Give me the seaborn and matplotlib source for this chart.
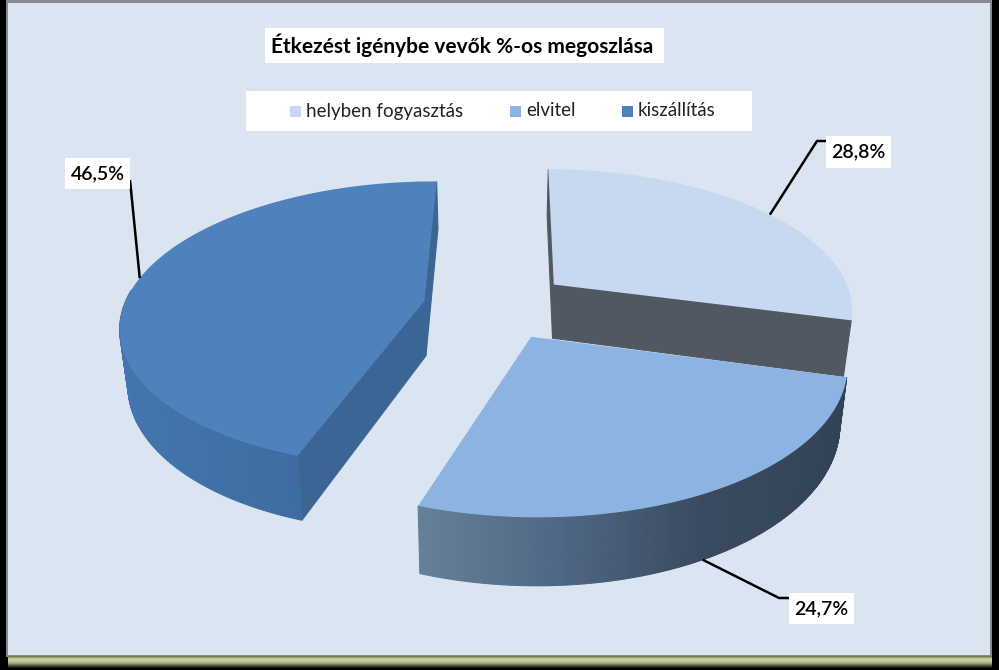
import matplotlib
matplotlib.use("Agg")
import matplotlib.pyplot as plt
from matplotlib.patches import Polygon, Rectangle
import numpy as np
import seaborn as sns

categories = ['helyben fogyasztás', 'elvitel', 'kiszállítás']
shares = [28.8, 24.7, 46.5]

title = 'Étkezést igénybe vevők %-os megoszlása'
top_colors = ['#C6D9F0', '#8DB3E2', '#4F81BD']
rim_colors = [['#525862', '#525862'],
              ['#668099', '#4F6784', '#3A4A60', '#334357'],
              ['#4475AE', '#3F6DA3', '#3A6293']]
cut_colors = ['#525862', '#334357', '#3B6595']

# label boxes / elbows in image pixels
label_boxes = [(826, 136, 65, 32), (789, 593, 65, 31), (65, 158, 65, 31)]
label_elbows = [[(817, 141), (826, 141)], [(779, 598), (789, 598)], [(130, 180)]]
anchor_pos = [0.53, 0.49, 0.52]  # where along the rim each leader line starts

# pseudo-3D pie geometry (image pixels)
CX, CY = 497, 305
RX, RY = 300, 140
PERSP = 0.161
EXPLODE = 0.245
DEPTH = 55
SHRINK = 0.978
START = 89.5
WARP = 6.0

sns.set_theme(style="white")
plt.rcParams['font.family'] = ['Lato', 'DejaVu Sans']


def project(x, y):
    w = 1 + PERSP * y
    return CX + RX * x / w, CY - RY * y / w


def drop(x, y):
    # same ground point, but on the underside of the slice
    w = 1 + PERSP * y
    px, py = project(x, y)
    return CX + (px - CX) * SHRINK, py + DEPTH / w


def warp(deg):
    # the original's front half opens a little wider than a true circle
    deg = np.asarray(deg, dtype=float)
    s = np.clip(-np.sin(np.radians(deg)), 0, 1)
    return np.radians(deg - WARP * s ** 1.5)


fig = plt.figure(figsize=(9.99, 6.70), dpi=100, facecolor='black')
ax = fig.add_axes([0, 0, 1, 1])
ax.set_xlim(0, 999)
ax.set_ylim(670, 0)
ax.axis('off')

# frame: grey edge, pale panel, olive strip at the bottom
ax.add_patch(Rectangle((6, 0), 986, 657, fc='#868A8E', ec='none'))
ax.add_patch(Rectangle((8, 3), 982, 652, fc='#DBE5F1', ec='none'))
strip = sns.blend_palette(['#6E7A4C', '#C4D09E', '#C0CC9C', '#A0AC80', '#5A6246', '#15170F'], 12)
for i, c in enumerate(strip):
    ax.add_patch(Rectangle((8, 656 + i), 984, 1.2, fc=c, ec='none'))

# start angle -> end angle of each slice, taken from the shares
spans = np.array(shares) / sum(shares) * 360
ends = START - np.cumsum(spans)
starts = ends + spans
mids = (starts + ends) / 2


def slice_geometry(i):
    a = warp(mids[i])
    ox, oy = EXPLODE * np.cos(a), EXPLODE * np.sin(a)
    t = warp(np.linspace(starts[i], ends[i], 200))
    return ox, oy, ox + np.cos(t), oy + np.sin(t)


def draw_slice(i):
    ox, oy, rx, ry = slice_geometry(i)
    walls = []
    if i != 1:  # cut faces of the front slice are hidden
        for j in [0, -1]:
            avg = (oy + ry[j]) / 2
            pts = [project(ox, oy), project(rx[j], ry[j]), drop(rx[j], ry[j]), drop(ox, oy)]
            walls.append((avg, pts, cut_colors[i]))
    # rim as narrow quads so the shading can run along it
    xs = np.array([project(a, b)[0] for a, b in zip(rx, ry)])
    shades = sns.blend_palette(rim_colors[i], 120)
    span = max(xs.max() - xs.min(), 1)
    for k in range(len(rx) - 1):
        if ry[k] > 0.1 or i == 0:
            continue
        f = (xs[k] - xs.min()) / span
        pts = [project(rx[k], ry[k]), project(rx[k + 1], ry[k + 1]),
               drop(rx[k + 1], ry[k + 1]), drop(rx[k], ry[k])]
        walls.append(((ry[k] + ry[k + 1]) / 2, pts, shades[min(int(f * 120), 119)]))
    for _, pts, c in sorted(walls, key=lambda v: -v[0]):
        ax.add_patch(Polygon(pts, closed=True, fc=c, ec=c, lw=0.8))
    top = [project(ox, oy)] + [project(a, b) for a, b in zip(rx, ry)]
    ax.add_patch(Polygon(top, closed=True, fc=top_colors[i], ec='none'))


# back to front
for i in [0, 2, 1]:
    draw_slice(i)

# leader lines start on the rim of each slice
for i in range(3):
    ox, oy, rx, ry = slice_geometry(i)
    k = int(anchor_pos[i] * (len(rx) - 1))
    anchor = drop(rx[k], ry[k]) if i == 1 else project(rx[k], ry[k])
    path = [anchor] + label_elbows[i]
    ax.plot(*zip(*path), color='black', lw=1.8, solid_capstyle='butt', zorder=4)
    x0, y0, w, h = label_boxes[i]
    ax.add_patch(Rectangle((x0, y0), w, h, fc='white', ec='none', zorder=5))
    ax.text(x0 + w / 2, y0 + h / 2, f'{shares[i]:.1f}%'.replace('.', ','), ha='center',
            va='center', fontsize=14, fontweight='semibold', color='black', zorder=6)

# title
ax.add_patch(Rectangle((265, 28), 399, 35, fc='white', ec='none'))
ax.text(462, 45.5, title, ha='center', va='center', fontsize=15, fontweight='bold', color='black')

# legend
ax.add_patch(Rectangle((246, 91), 506, 40, fc='white', ec='none'))
swatch_x = [290, 510, 622]
for name, c, sx in zip(categories, top_colors, swatch_x):
    ax.add_patch(Rectangle((sx, 106), 11, 11, fc=c, ec='none'))
    ax.text(sx + 16, 111, name, ha='left', va='center', fontsize=13.5, fontweight='normal', color='#222222')

fig.savefig('out.png', dpi=100, facecolor='black')
